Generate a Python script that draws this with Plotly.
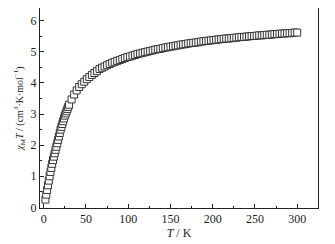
import plotly.graph_objects as go

# temperature (K) and chi_M*T (cm3 K mol-1)
temp_k = [
    2, 3, 4, 5, 6, 7, 8, 9, 10, 11, 12, 13, 14, 15, 16, 17, 18, 19, 20,
    21, 22, 23, 24, 25, 26, 27, 28, 29, 30,
    33, 36, 39, 42, 45, 48, 51, 54, 57, 60, 63, 66, 69, 72, 75, 78, 81, 84,
    87, 90, 93, 96, 99, 102, 105, 108, 111, 114, 117, 120, 123, 126, 129,
    132, 135, 138, 141, 144, 147, 150, 153, 156, 159, 162, 165, 168, 171,
    174, 177, 180, 183, 186, 189, 192, 195, 198, 201, 204, 207, 210, 213,
    216, 219, 222, 225, 228, 231, 234, 237, 240, 243, 246, 249, 252, 255,
    258, 261, 264, 267, 270, 273, 276, 279, 282, 285, 288, 291, 294, 297, 300,
]
chi_t = [
    0.25, 0.41, 0.56, 0.71, 0.86, 1.00, 1.14, 1.27, 1.40, 1.52, 1.63, 1.74,
    1.85, 1.95, 2.06, 2.17, 2.28, 2.39, 2.50, 2.59, 2.68, 2.77, 2.86, 2.95,
    3.02, 3.09, 3.16, 3.23, 3.30,
    3.47, 3.63, 3.76, 3.87, 3.96, 4.04, 4.12, 4.19, 4.26, 4.32, 4.38, 4.45,
    4.49, 4.53, 4.57, 4.61, 4.65, 4.68, 4.71, 4.74, 4.77, 4.80, 4.83, 4.85,
    4.88, 4.90, 4.93, 4.95, 4.97, 4.99, 5.01, 5.03, 5.05, 5.07, 5.09, 5.10,
    5.12, 5.14, 5.15, 5.17, 5.18, 5.20, 5.21, 5.23, 5.24, 5.25, 5.27, 5.28,
    5.29, 5.30, 5.31, 5.33, 5.34, 5.35, 5.36, 5.37, 5.38, 5.39, 5.40, 5.41,
    5.42, 5.43, 5.43, 5.44, 5.45, 5.46, 5.47, 5.48, 5.48, 5.49, 5.50, 5.51,
    5.51, 5.52, 5.53, 5.53, 5.54, 5.55, 5.55, 5.56, 5.57, 5.57, 5.58, 5.59,
    5.59, 5.60, 5.60, 5.61, 5.62, 5.62,
]

FONT = "Liberation Serif"
AXIS_COLOR = "#222222"

fig = go.Figure()
fig.add_trace(
    go.Scatter(
        x=temp_k,
        y=chi_t,
        mode="markers",
        marker=dict(symbol="square", size=7, color="white",
                    line=dict(color="#333333", width=1)),
        showlegend=False,
    )
)

axis_common = dict(
    showline=True, linecolor=AXIS_COLOR, linewidth=1, mirror=True,
    showgrid=False, zeroline=False,
    ticks="inside", ticklen=4, tickcolor=AXIS_COLOR,
    tickfont=dict(family=FONT, size=12, color=AXIS_COLOR),
)

fig.update_xaxes(
    range=[-4.4, 324.6], tickmode="linear", tick0=0, dtick=50,
    minor=dict(ticks="inside", ticklen=2, dtick=25, tickcolor=AXIS_COLOR),
    title=dict(text="<i>T</i> / K", font=dict(family=FONT, size=12, color=AXIS_COLOR),
               standoff=2),
    **axis_common,
)
fig.update_yaxes(
    range=[-0.02, 6.41], tickmode="linear", tick0=0, dtick=1,
    minor=dict(ticks="inside", ticklen=2, dtick=0.5, tickcolor=AXIS_COLOR),
    title=dict(text="<i>χ</i><sub>M</sub><i>T</i> / (cm<sup>3</sup>·K·mol<sup>−1</sup>)",
               font=dict(family=FONT, size=10, color=AXIS_COLOR), standoff=5),
    **axis_common,
)

# the page body adds an 8 px margin, so the figure is drawn 8 px smaller
fig.update_layout(
    width=327, height=236,
    margin=dict(l=32, r=17, t=0, b=36),
    paper_bgcolor="white", plot_bgcolor="white",
)

fig.write_html("out.html")
